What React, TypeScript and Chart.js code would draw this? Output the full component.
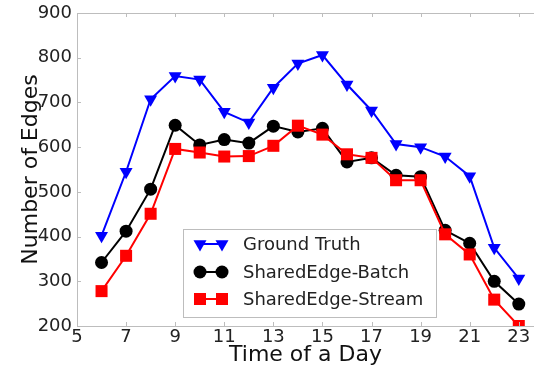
import React, { useEffect, useRef } from "react";
import { Chart, registerables } from "chart.js";

Chart.register(...registerables);

const hours = [6, 7, 8, 9, 10, 11, 12, 13, 14, 15, 16, 17, 18, 19, 20, 21, 22, 23];
const groundTruth = [402, 545, 707, 759, 751, 679, 655, 733, 787, 806, 740, 682, 607, 600, 579, 535, 375, 306];
const batch = [342, 412, 506, 649, 605, 617, 609, 647, 634, 642, 567, 576, 537, 534, 414, 385, 300, 249];
const stream = [278, 357, 451, 596, 588, 579, 580, 603, 648, 628, 584, 576, 526, 526, 405, 360, 259, 200];
const xTicks = [5, 7, 9, 11, 13, 15, 17, 19, 21, 23];
const yTicks = [200, 300, 400, 500, 600, 700, 800, 900];
const seriesNames = ["Ground Truth", "SharedEdge-Batch", "SharedEdge-Stream"];
const seriesColors = ["#0000ff", "#000000", "#ff0000"];

const FONT = "'DejaVu Sans', sans-serif";
const FRAME = "#bdbdbd";

function drawMarker(ctx: CanvasRenderingContext2D, kind: number, x: number, y: number, color: string) {
  ctx.save();
  ctx.fillStyle = color;
  ctx.beginPath();
  if (kind === 0) {
    const r = 7.5;
    ctx.moveTo(x - r * 0.866, y - r * 0.5);
    ctx.lineTo(x + r * 0.866, y - r * 0.5);
    ctx.lineTo(x, y + r);
    ctx.closePath();
  } else if (kind === 1) {
    ctx.arc(x, y, 6.5, 0, Math.PI * 2);
  } else {
    ctx.rect(x - 6, y - 6, 12, 12);
  }
  ctx.fill();
  ctx.restore();
}

const framePlugin = {
  id: "frameAndLegend",
  afterDatasetsDraw(chart: any) {
    const ctx: CanvasRenderingContext2D = chart.ctx;
    const { left, right, top, bottom } = chart.chartArea;
    const xs = chart.scales.x;
    const ys = chart.scales.y;
    ctx.save();
    ctx.strokeStyle = FRAME;
    ctx.lineWidth = 1;
    ctx.beginPath();
    ctx.moveTo(left, top + 0.5);
    ctx.lineTo(right, top + 0.5);
    ctx.stroke();
    // inward ticks
    ctx.beginPath();
    xTicks.forEach((v) => {
      const px = Math.round(xs.getPixelForValue(v)) + 0.5;
      ctx.moveTo(px, bottom);
      ctx.lineTo(px, bottom - 4);
      ctx.moveTo(px, top);
      ctx.lineTo(px, top + 4);
    });
    yTicks.forEach((v) => {
      const py = Math.round(ys.getPixelForValue(v)) + 0.5;
      ctx.moveTo(left, py);
      ctx.lineTo(left + 4, py);
    });
    ctx.stroke();

    // legend
    const bx = 183.5, by = 229.5, bw = 253, bh = 88;
    ctx.fillStyle = "#ffffff";
    ctx.fillRect(bx, by, bw, bh);
    ctx.strokeStyle = FRAME;
    ctx.strokeRect(bx, by, bw, bh);
    const rows = [244, 272, 299];
    ctx.font = `18px ${FONT}`;
    ctx.textBaseline = "middle";
    ctx.textAlign = "left";
    seriesNames.forEach((name, i) => {
      const y = rows[i];
      ctx.strokeStyle = seriesColors[i];
      ctx.lineWidth = 2;
      ctx.beginPath();
      ctx.moveTo(200, y);
      ctx.lineTo(222, y);
      ctx.stroke();
      drawMarker(ctx, i, 200, y, seriesColors[i]);
      drawMarker(ctx, i, 222, y, seriesColors[i]);
      ctx.fillStyle = "#222222";
      ctx.fillText(name, 243, y + 1);
    });
    ctx.restore();
  },
};

export default function App() {
  const canvasRef = useRef<HTMLCanvasElement | null>(null);

  useEffect(() => {
    if (!canvasRef.current) return;
    const mk = (label: string, data: number[], color: string, style: any, radius: number, rotation = 0) => ({
      label,
      data: hours.map((h, i) => ({ x: h, y: data[i] })),
      borderColor: color,
      backgroundColor: color,
      borderWidth: 2,
      pointStyle: style,
      pointRadius: radius,
      pointRotation: rotation,
      pointBorderWidth: 0,
      pointBackgroundColor: color,
      tension: 0,
    });
    const chart = new Chart(canvasRef.current, {
      type: "line",
      data: {
        datasets: [
          mk(seriesNames[2], stream, seriesColors[2], "rect", 8.5),
          mk(seriesNames[1], batch, seriesColors[1], "circle", 6.5),
          mk(seriesNames[0], groundTruth, seriesColors[0], "triangle", 7.5, 180),
        ],
      },
      options: {
        animation: false,
        responsive: false,
        maintainAspectRatio: false,
        layout: { autoPadding: false, padding: { top: 13, right: 0, left: 0, bottom: 0 } },
        plugins: { legend: { display: false }, tooltip: { enabled: false } },
        scales: {
          x: {
            type: "linear",
            min: 5,
            max: 23.62,
            grid: { display: false, drawTicks: false },
            border: { display: true, color: FRAME, width: 1 },
            afterBuildTicks: (s: any) => {
              s.ticks = xTicks.map((v) => ({ value: v }));
            },
            afterFit: (s: any) => {
              s.height = 48;
              s.paddingLeft = 0;
              s.paddingRight = 0;
            },
            ticks: {
              color: "#222222",
              font: { family: FONT, size: 18 },
              padding: 1,
              maxRotation: 0,
              autoSkip: false,
            },
            title: {
              display: true,
              text: "Time of a Day",
              color: "#111111",
              font: { family: FONT, size: 22 },
              padding: { top: 0, bottom: 6 },
            },
          },
          y: {
            type: "linear",
            min: 200,
            max: 900,
            grid: { display: false, drawTicks: false },
            border: { display: true, color: FRAME, width: 1 },
            afterBuildTicks: (s: any) => {
              s.ticks = yTicks.map((v) => ({ value: v }));
            },
            afterFit: (s: any) => {
              s.width = 77;
              s.paddingTop = 0;
              s.paddingBottom = 0;
            },
            ticks: {
              color: "#222222",
              font: { family: FONT, size: 18 },
              padding: 5,
            },
            title: {
              display: true,
              text: "Number of Edges",
              color: "#111111",
              font: { family: FONT, size: 22 },
              padding: { top: 18, bottom: 0 },
            },
          },
        },
      },
      plugins: [framePlugin],
    });
    return () => chart.destroy();
  }, []);

  return (
    <div style={{ position: "fixed", left: 0, top: 0, width: 534, height: 374, background: "#fff" }}>
      <canvas ref={canvasRef} width={534} height={374} style={{ width: 534, height: 374 }} />
    </div>
  );
}
